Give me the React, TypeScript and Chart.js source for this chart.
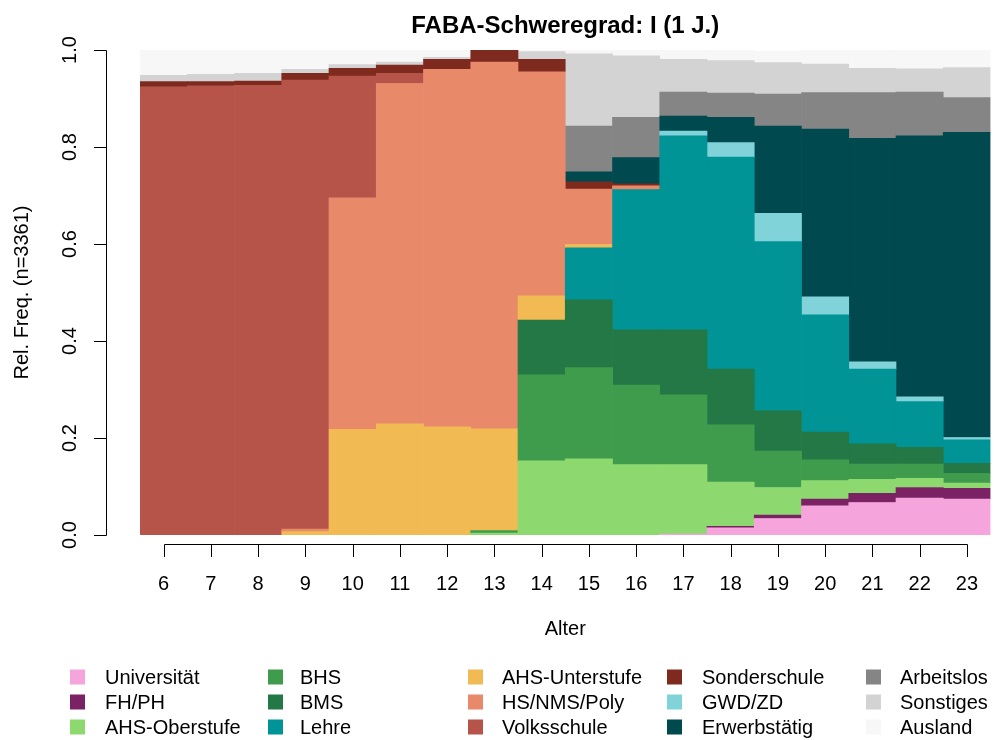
import React, { useEffect, useRef } from "react";
import { Chart, registerables } from "chart.js";

Chart.register(...registerables);

// ---------- data ----------
const ages = ["6", "7", "8", "9", "10", "11", "12", "13", "14", "15", "16", "17", "18", "19", "20", "21", "22", "23"];
const yTickValues = [0, 0.2, 0.4, 0.6, 0.8, 1.0];
const yTickLabels = ["0.0", "0.2", "0.4", "0.6", "0.8", "1.0"];
const chartTitle = "FABA-Schweregrad: I (1 J.)";
const xTitle = "Alter";
const yTitle = "Rel. Freq. (n=3361)";

const universitaet = [0, 0, 0, 0, 0, 0, 0, 0, 0, 0, 0, 0.002, 0.015, 0.034, 0.060, 0.067, 0.076, 0.074];
const fhPh = [0, 0, 0, 0, 0, 0, 0, 0, 0, 0, 0, 0, 0.003, 0.007, 0.014, 0.019, 0.022, 0.022];
const ahsOberstufe = [0, 0, 0, 0, 0, 0, 0, 0.004, 0.153, 0.157, 0.145, 0.143, 0.091, 0.057, 0.038, 0.029, 0.019, 0.011];
const bhs = [0, 0, 0, 0, 0, 0, 0, 0.005, 0.177, 0.188, 0.164, 0.144, 0.118, 0.075, 0.043, 0.031, 0.029, 0.020];
const bms = [0, 0, 0, 0, 0, 0, 0, 0, 0.113, 0.140, 0.114, 0.134, 0.115, 0.083, 0.057, 0.042, 0.035, 0.021];
const lehre = [0, 0, 0, 0, 0, 0, 0, 0, 0, 0.107, 0.289, 0.400, 0.437, 0.349, 0.242, 0.154, 0.094, 0.048];
const ahsUnterstufe = [0, 0, 0, 0.007, 0.218, 0.229, 0.223, 0.210, 0.050, 0.007, 0, 0, 0, 0, 0, 0, 0, 0];
const hsNmsPoly = [0, 0, 0, 0.005, 0.477, 0.702, 0.737, 0.756, 0.462, 0.114, 0.008, 0, 0, 0, 0, 0, 0, 0];
const volksschule = [0.924, 0.926, 0.927, 0.926, 0.251, 0.021, 0, 0, 0, 0, 0, 0, 0, 0, 0, 0, 0, 0];
const sonderschule = [0.011, 0.009, 0.009, 0.014, 0.016, 0.017, 0.021, 0.025, 0.026, 0.015, 0.004, 0, 0, 0, 0, 0, 0, 0];
const gwdZd = [0, 0, 0, 0, 0, 0, 0, 0, 0, 0, 0, 0.010, 0.030, 0.058, 0.037, 0.015, 0.010, 0.005];
const erwerbstaetig = [0, 0, 0, 0, 0, 0, 0, 0, 0, 0.021, 0.054, 0.031, 0.052, 0.180, 0.346, 0.461, 0.538, 0.629];
const arbeitslos = [0, 0, 0, 0, 0, 0, 0, 0, 0, 0.094, 0.083, 0.049, 0.050, 0.066, 0.075, 0.094, 0.090, 0.072];
const sonstiges = [0.013, 0.015, 0.016, 0.008, 0.008, 0.006, 0.004, 0, 0.016, 0.149, 0.127, 0.068, 0.067, 0.065, 0.059, 0.050, 0.048, 0.062];
const ausland = [0.052, 0.050, 0.048, 0.040, 0.030, 0.025, 0.015, 0, 0.003, 0.008, 0.012, 0.019, 0.022, 0.024, 0.029, 0.038, 0.039, 0.036];

const seriesNames = [
  "Universität", "FH/PH", "AHS-Oberstufe", "BHS", "BMS", "Lehre", "AHS-Unterstufe", "HS/NMS/Poly",
  "Volksschule", "Sonderschule", "GWD/ZD", "Erwerbstätig", "Arbeitslos", "Sonstiges", "Ausland",
];
const seriesValues = [
  universitaet, fhPh, ahsOberstufe, bhs, bms, lehre, ahsUnterstufe, hsNmsPoly,
  volksschule, sonderschule, gwdZd, erwerbstaetig, arbeitslos, sonstiges, ausland,
];
const seriesColors = [
  "#F5A5DC", "#7A2263", "#8DD970", "#3F9C4C", "#237845", "#009497", "#F1BA53", "#E8896A",
  "#B6544A", "#7F2A1F", "#80D3D8", "#00494F", "#858585", "#D3D3D3", "#F7F7F7",
];

const FONT = "'Liberation Sans', Arial, Helvetica, sans-serif";

const axesPlugin = {
  id: "rStyleAxes",
  afterDraw(chart: any) {
    const ctx = chart.ctx as CanvasRenderingContext2D;
    const area = chart.chartArea;
    const xs = chart.scales.x;
    const ys = chart.scales.y;
    ctx.save();
    ctx.fillStyle = "#000";
    ctx.strokeStyle = "#000";
    ctx.lineWidth = 1;

    // title
    ctx.font = `bold 24px ${FONT}`;
    ctx.textAlign = "center";
    ctx.textBaseline = "alphabetic";
    ctx.fillText(chartTitle, (area.left + area.right) / 2, 33);

    // x axis
    const x0 = xs.getPixelForValue(0);
    const x1 = xs.getPixelForValue(ages.length - 1);
    const axY = 544.5;
    ctx.beginPath();
    ctx.moveTo(Math.round(x0) + 0.5, axY);
    ctx.lineTo(Math.round(x1) + 0.5, axY);
    ages.forEach((_, i) => {
      const px = Math.round(xs.getPixelForValue(i)) + 0.5;
      ctx.moveTo(px, axY);
      ctx.lineTo(px, 557);
    });
    ctx.stroke();
    ctx.font = `20px ${FONT}`;
    ctx.textAlign = "center";
    ctx.textBaseline = "alphabetic";
    ages.forEach((a, i) => {
      ctx.fillText(a, xs.getPixelForValue(i), 590);
    });
    ctx.fillText(xTitle, (area.left + area.right) / 2, 635);

    // y axis
    const axX = 106.5;
    const yTop = Math.round(ys.getPixelForValue(1)) + 0.5;
    const yBot = Math.round(ys.getPixelForValue(0)) + 0.5;
    ctx.beginPath();
    ctx.moveTo(axX, yTop);
    ctx.lineTo(axX, yBot);
    yTickValues.forEach((v) => {
      const py = Math.round(ys.getPixelForValue(v)) + 0.5;
      ctx.moveTo(axX, py);
      ctx.lineTo(94, py);
    });
    ctx.stroke();
    yTickValues.forEach((v, i) => {
      const py = ys.getPixelForValue(v);
      ctx.save();
      ctx.translate(70, py);
      ctx.rotate(-Math.PI / 2);
      ctx.textAlign = "center";
      ctx.textBaseline = "middle";
      ctx.fillText(yTickLabels[i], 0, 0);
      ctx.restore();
    });
    ctx.save();
    ctx.translate(22, (area.top + area.bottom) / 2);
    ctx.rotate(-Math.PI / 2);
    ctx.textAlign = "center";
    ctx.textBaseline = "middle";
    ctx.fillText(yTitle, 0, 0);
    ctx.restore();

    // legend (5 columns x 3 rows, filled column by column)
    const colSquareX = [70, 268, 468, 667, 866];
    const colTextX = [105, 300, 502, 702, 900];
    const rowY = [677, 702, 727];
    ctx.font = `20px ${FONT}`;
    ctx.textAlign = "left";
    ctx.textBaseline = "alphabetic";
    seriesNames.forEach((name, i) => {
      const c = Math.floor(i / 3);
      const r = i % 3;
      ctx.fillStyle = seriesColors[i];
      ctx.fillRect(colSquareX[c], rowY[r] - 7.5, 15, 15);
      ctx.fillStyle = "#000";
      ctx.fillText(name, colTextX[c], rowY[r] + 7);
    });
    ctx.restore();
  },
};

export default function App() {
  const canvasRef = useRef<HTMLCanvasElement | null>(null);

  useEffect(() => {
    const canvas = canvasRef.current;
    if (!canvas) return;
    const chart = new Chart(canvas, {
      type: "bar",
      data: {
        labels: ages,
        datasets: seriesNames.map((name, i) => ({
          label: name,
          data: seriesValues[i].map((v) => (v === 0 ? null : v)),
          backgroundColor: seriesColors[i],
          borderWidth: 0,
          barPercentage: 1,
          categoryPercentage: 1,
        })),
      },
      options: {
        responsive: false,
        animation: false,
        devicePixelRatio: 1,
        layout: { padding: { left: 140, right: 3.5, top: 50, bottom: 205 } },
        plugins: {
          legend: { display: false },
          title: { display: false },
          tooltip: { enabled: false },
        },
        scales: {
          x: { stacked: true, display: false, offset: true },
          y: { stacked: true, display: false, min: 0, max: 1 },
        },
      },
      plugins: [axesPlugin],
    });
    return () => chart.destroy();
  }, []);

  return (
    <div style={{ position: "fixed", left: 0, top: 0, width: 994, height: 740, background: "#fff" }}>
      <canvas ref={canvasRef} width={994} height={740} style={{ width: 994, height: 740, display: "block" }} />
    </div>
  );
}
